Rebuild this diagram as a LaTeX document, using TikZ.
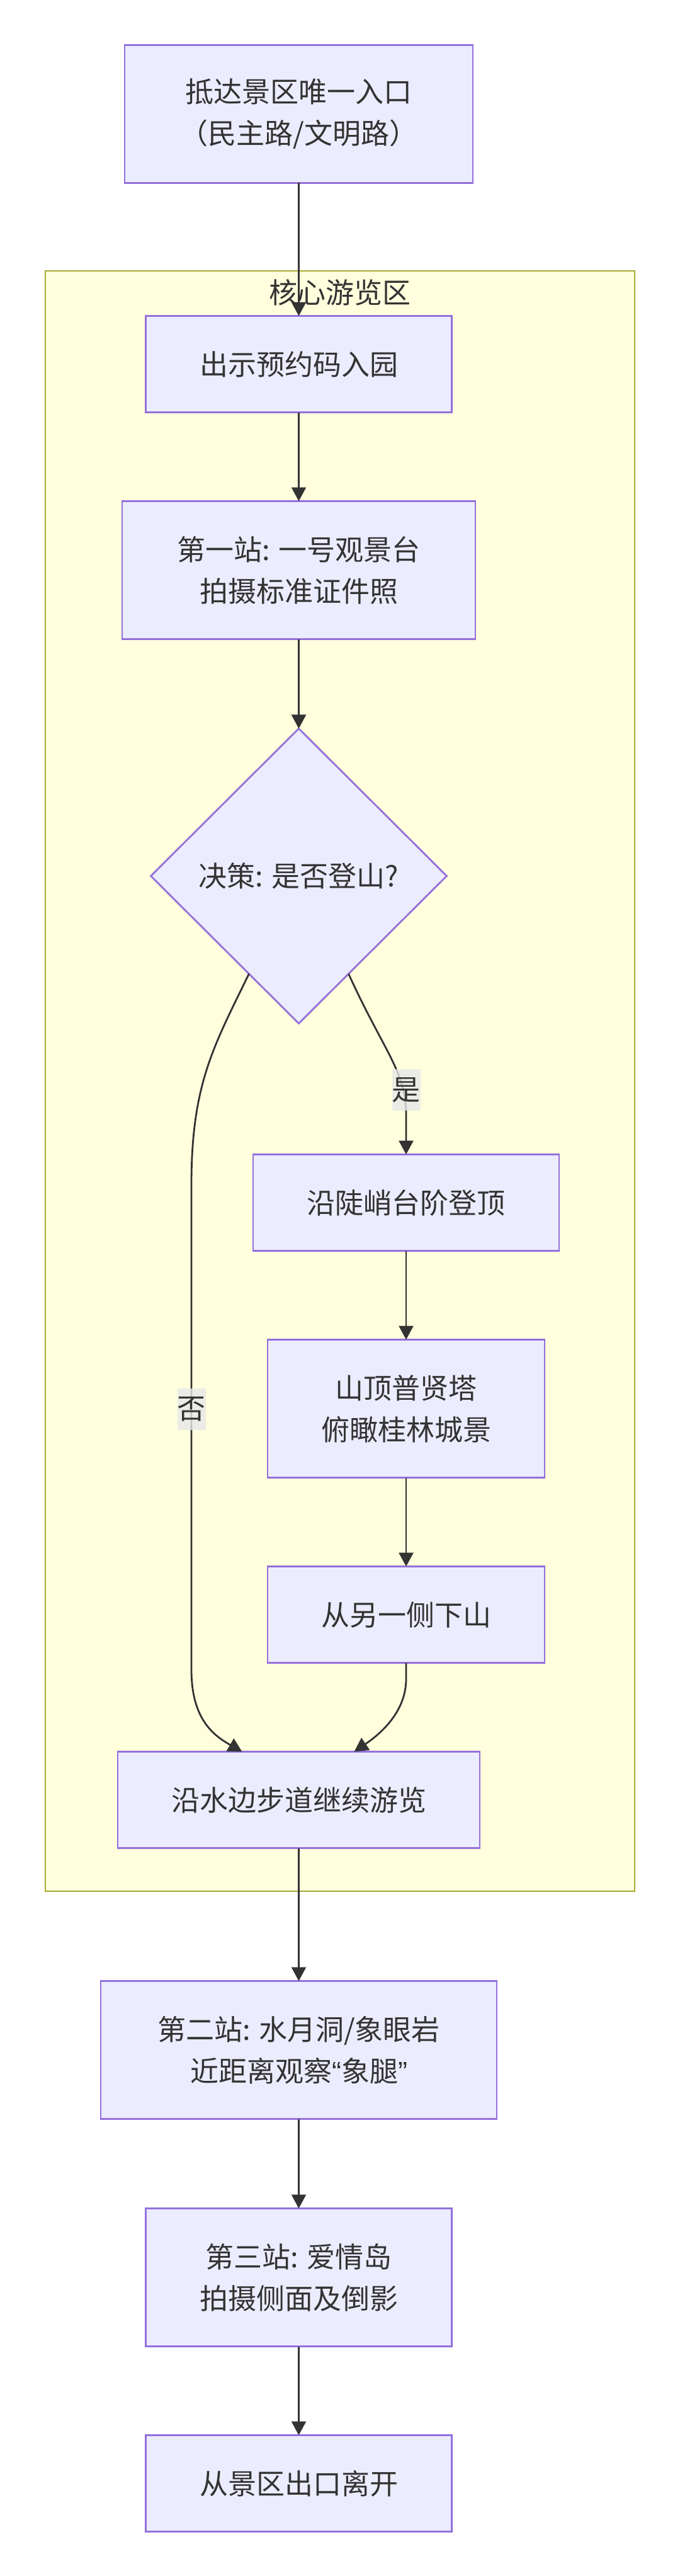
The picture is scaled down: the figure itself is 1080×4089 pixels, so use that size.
\documentclass[tikz,border=0pt]{standalone}
\usepackage{fontspec}
\setmainfont{Noto Sans CJK SC}
\newfontfamily\latinquote{Liberation Sans}
\usepackage{xcolor}
\usepackage{tikz}
\usetikzlibrary{positioning, shapes.geometric, arrows.meta}
\definecolor{nodefill}{HTML}{ECECFF}
\definecolor{nodeline}{HTML}{9370DB}
\definecolor{zonefill}{HTML}{FFFFDE}
\definecolor{zoneline}{HTML}{AAAA33}
\definecolor{ink}{HTML}{333333}
\definecolor{tagfill}{HTML}{E8E8E8}

\begin{document}
\begin{tikzpicture}[x=0.5pt, y=-0.5pt, >={Triangle[length=11pt, width=11.5pt]},
  every node/.style={font=\fontsize{22.5pt}{33pt}\selectfont, text=ink},
  stepbox/.style={draw=nodeline, fill=nodefill, line width=1.4pt, rectangle, align=center, inner sep=0pt, outer sep=0pt, minimum height=76.5pt},
  tallbox/.style={stepbox, minimum height=109.5pt},
  choice/.style={draw=nodeline, fill=nodefill, line width=1.4pt, diamond, aspect=1, inner sep=0pt, outer sep=0pt, minimum width=235pt, minimum height=234pt},
  flow/.style={->, draw=ink, line width=1.4pt},
  edgetag/.style={fill=tagfill, fill opacity=0.8, text opacity=1, inner sep=0pt, minimum width=22pt, minimum height=33pt}]
\path[use as bounding box, fill=white] (0,0) rectangle (1080,4089);

% Core zone
\draw[draw=zoneline, fill=zonefill, line width=1.4pt] (72,430) rectangle (1008,3002);
\node (zonetitle) at (540,464) {核心游览区};

% Entrance
\node[tallbox, minimum width=276.5pt] (entry) at (474.5,181) {抵达景区唯一入口\\（民主路/文明路）};
\node[stepbox, minimum width=243pt, below=105.5pt of entry] (gate) {出示预约码入园};
\node[tallbox, minimum width=280.5pt, below=70.5pt of gate] (stop1) {第一站: 一号观景台\\拍摄标准证件照};

% Decision
\node[choice, below=71pt of stop1] (decide) {决策: 是否登山?};

% Mountain route
\node[stepbox, minimum width=243pt, below=104pt of decide, xshift=85.25pt] (climb) {沿陡峭台阶登顶};
\node[tallbox, minimum width=220pt, below=70.5pt of climb] (peak) {山顶普贤塔\\俯瞰桂林城景};
\node[stepbox, minimum width=220pt, below=70.5pt of peak] (down) {从另一侧下山};

% Riverside
\node[stepbox, minimum width=287.5pt, below=70.5pt of down, xshift=-85.25pt] (walk) {沿水边步道继续游览};

% After the zone
\node[tallbox, minimum width=314.5pt, below=105.5pt of walk] (stop2) {第二站: 水月洞/象眼岩\\近距离观察{\latinquote “}象腿{\latinquote ”}};
\node[tallbox, minimum width=243pt, below=71pt of stop2] (stop3) {第三站: 爱情岛\\拍摄侧面及倒影};
\node[stepbox, minimum width=243pt, below=70.5pt of stop3] (leave) {从景区出口离开};

% Connections
\draw[flow] (entry) -- (gate);
\draw[flow] (gate) -- (stop1);
\draw[flow] (stop1) -- (decide);
\draw[flow] (decide.-63) .. controls (609,1668) and (645,1700) .. (645,1770) -- (climb.north);
\node[edgetag] (yes) at (645,1730) {是};
\draw[flow] (decide.-117) .. controls (340,1660) and (304,1720) .. (304,1880) -- (304,2650) .. controls (304,2730) and (340,2755) .. ([xshift=-45pt]walk.north);
\node[edgetag] (no) at (304,2237) {否};
\draw[flow] (climb) -- (peak);
\draw[flow] (peak) -- (down);
\draw[flow] (down.south) -- (645,2665) .. controls (645,2720) and (600,2755) .. ([xshift=44pt]walk.north);
\draw[flow] (walk) -- (stop2);
\draw[flow] (stop2) -- (stop3);
\draw[flow] (stop3) -- (leave);
\end{tikzpicture}
\end{document}
